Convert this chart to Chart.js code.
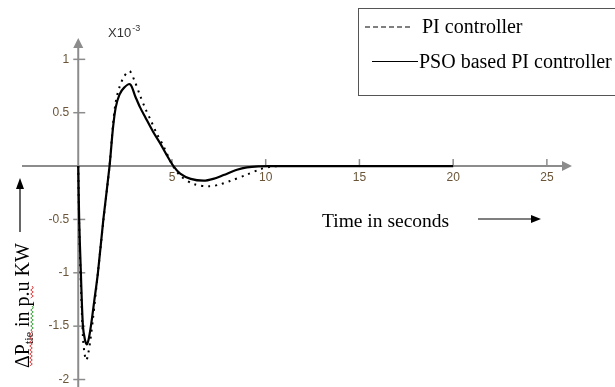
<!DOCTYPE html>
<html>
<head>
<meta charset="utf-8">
<script src="https://cdn.jsdelivr.net/npm/chart.js@4.4.1/dist/chart.umd.min.js"></script>
<style>
  html, body { margin: 0; padding: 0; background: #fff; }
  #wrap { width: 615px; height: 387px; position: relative; }
</style>
</head>
<body>
<div id="wrap"><canvas id="tieChart"></canvas></div>
<script>
// time (s) and deviation (x10^-3 p.u KW)
const piTime = [0, 0.05, 0.14, 0.25, 0.34, 0.43, 0.53, 0.64, 0.78, 1.05, 1.35, 1.67, 1.85, 2.0, 2.2, 2.45, 2.74, 3.0, 3.3, 3.6, 3.84, 4.2, 4.54, 5.05, 5.5, 6.2, 7.0, 7.6, 8.1, 9.0, 9.7, 10.3, 11, 12, 15, 20];
const piValues = [0, -0.55, -1.1, -1.6, -1.76, -1.82, -1.76, -1.64, -1.44, -1.0, -0.5, 0, 0.38, 0.6, 0.74, 0.84, 0.89, 0.8, 0.66, 0.53, 0.44, 0.3, 0.19, 0, -0.1, -0.17, -0.19, -0.17, -0.14, -0.08, -0.03, -0.005, 0, 0, 0, 0];

const psoTime = [0, 0.05, 0.14, 0.25, 0.36, 0.46, 0.57, 0.7, 0.85, 1.05, 1.34, 1.67, 1.85, 2.0, 2.2, 2.45, 2.77, 3.05, 3.3, 3.57, 4.0, 4.38, 4.7, 5.08, 5.44, 6.0, 6.69, 7.2, 7.75, 8.47, 9.0, 9.6, 10.3, 12, 15, 20];
const psoValues = [0, -0.5, -1.0, -1.5, -1.63, -1.67, -1.61, -1.47, -1.27, -1.0, -0.5, 0, 0.35, 0.55, 0.67, 0.735, 0.766, 0.65, 0.55, 0.46, 0.32, 0.21, 0.11, 0, -0.07, -0.12, -0.137, -0.12, -0.084, -0.035, -0.012, -0.002, 0, 0, 0, 0];

const xTicks = [5, 10, 15, 20, 25];
const yTicks = [1, 0.5, -0.5, -1, -1.5, -2];
const yTickLabels = ["1", "0.5", "-0.5", "-1", "-1.5", "-2"];
const seriesNames = ["PI controller", "PSO based PI controller"];

function toPoints(xs, ys) {
  return xs.map(function(x, i) { return { x: x, y: ys[i] }; });
}

const serif = "'Liberation Serif', 'Times New Roman', serif";
const sans = "'Liberation Sans', Arial, sans-serif";

function arrowHead(ctx, x, y, dir, len, half) {
  ctx.beginPath();
  if (dir === 'right') {
    ctx.moveTo(x, y); ctx.lineTo(x - len, y - half); ctx.lineTo(x - len, y + half);
  } else {
    ctx.moveTo(x, y); ctx.lineTo(x - half, y + len); ctx.lineTo(x + half, y + len);
  }
  ctx.closePath();
  ctx.fill();
}

function squiggle(ctx, x, y1, y2, color) {
  ctx.save();
  ctx.strokeStyle = color;
  ctx.lineWidth = 1;
  ctx.beginPath();
  let flip = 1;
  ctx.moveTo(x, y1);
  for (let y = y1 + 2; y <= y2; y += 2) {
    ctx.lineTo(x + flip * 1.3, y);
    flip = -flip;
  }
  ctx.stroke();
  ctx.restore();
}

// axes through the origin with arrows, ticks and labels
const axesPlugin = {
  id: 'axesPlugin',
  beforeDatasetsDraw(chart) {
    const ctx = chart.ctx;
    const xs = chart.scales.x, ys = chart.scales.y;
    const area = chart.chartArea;
    const x0 = xs.getPixelForValue(0);
    const y0 = ys.getPixelForValue(0);
    ctx.save();
    ctx.strokeStyle = '#8c8c8c';
    ctx.fillStyle = '#8c8c8c';
    ctx.lineWidth = 2;
    // x axis
    ctx.beginPath();
    ctx.moveTo(area.left, y0);
    ctx.lineTo(area.right - 6, y0);
    ctx.stroke();
    arrowHead(ctx, area.right - 3, y0, 'right', 10, 5);
    // y axis
    ctx.beginPath();
    ctx.moveTo(x0, area.bottom);
    ctx.lineTo(x0, area.top + 6);
    ctx.stroke();
    arrowHead(ctx, x0, area.top, 'up', 10, 5);

    ctx.lineWidth = 1.5;
    yTicks.forEach(function(v) {
      const py = ys.getPixelForValue(v);
      ctx.beginPath();
      ctx.moveTo(x0 - 5, py);
      ctx.lineTo(x0 + 7, py);
      ctx.stroke();
    });
    xTicks.forEach(function(v) {
      const px = xs.getPixelForValue(v);
      ctx.beginPath();
      ctx.moveTo(px, y0 - 7);
      ctx.lineTo(px, y0 + 1);
      ctx.stroke();
    });

    ctx.fillStyle = '#6a5538';
    ctx.font = '12px ' + sans;
    ctx.textAlign = 'right';
    ctx.textBaseline = 'middle';
    yTicks.forEach(function(v, i) {
      ctx.fillText(yTickLabels[i], x0 - 9, ys.getPixelForValue(v));
    });
    ctx.textAlign = 'center';
    xTicks.forEach(function(v) {
      ctx.fillText(String(v), xs.getPixelForValue(v), y0 + 12);
    });

    // exponent marker
    ctx.fillStyle = '#333';
    ctx.textAlign = 'left';
    ctx.textBaseline = 'alphabetic';
    ctx.font = '13px ' + sans;
    ctx.fillText('X10', 108, 37);
    const ew = ctx.measureText('X10').width;
    ctx.font = '9px ' + sans;
    ctx.fillText('-3', 108 + ew + 1, 31);
    ctx.restore();
  },
  afterDraw(chart) {
    const ctx = chart.ctx;
    ctx.save();
    ctx.fillStyle = '#000';
    ctx.strokeStyle = '#000';

    // x title and arrow
    ctx.font = '19.5px ' + serif;
    ctx.textAlign = 'left';
    ctx.textBaseline = 'alphabetic';
    ctx.fillText('Time in seconds', 322, 227);
    ctx.lineWidth = 1.2;
    ctx.beginPath();
    ctx.moveTo(478, 219);
    ctx.lineTo(532, 219);
    ctx.stroke();
    arrowHead(ctx, 541, 219, 'right', 10, 4);

    // y title (rotated) and arrow
    ctx.save();
    ctx.translate(29, 368);
    ctx.rotate(-Math.PI / 2);
    ctx.font = '20px ' + serif;
    ctx.fillText('\u0394P', 0, 0);
    let w = ctx.measureText('\u0394P').width;
    ctx.font = '12px ' + serif;
    ctx.fillText('tie', w, 4);
    w += ctx.measureText('tie').width;
    ctx.font = '20px ' + serif;
    ctx.fillText(' in p.u KW', w, 0);
    ctx.restore();
    squiggle(ctx, 32, 286, 298, '#e04040');
    squiggle(ctx, 32, 306, 330, '#40a040');
    squiggle(ctx, 31, 330, 366, '#e04040');
    ctx.beginPath();
    ctx.moveTo(20, 232);
    ctx.lineTo(20, 188);
    ctx.stroke();
    arrowHead(ctx, 20, 178, 'up', 11, 4);

    // legend box
    ctx.lineWidth = 1;
    ctx.strokeStyle = '#555';
    ctx.strokeRect(358.5, 8.5, 300, 87);
    ctx.strokeStyle = '#000';
    ctx.lineWidth = 1.2;
    ctx.setLineDash([5, 3]);
    ctx.beginPath();
    ctx.moveTo(365, 27);
    ctx.lineTo(411, 27);
    ctx.stroke();
    ctx.setLineDash([]);
    ctx.beginPath();
    ctx.moveTo(372, 61.5);
    ctx.lineTo(418, 61.5);
    ctx.stroke();
    ctx.font = '20px ' + serif;
    ctx.fillText(seriesNames[0], 422, 33);
    ctx.fillText(seriesNames[1], 419, 68);
    ctx.restore();
  }
};

new Chart(document.getElementById('tieChart'), {
  type: 'line',
  data: {
    datasets: [{
      label: seriesNames[1],
      data: toPoints(psoTime, psoValues),
      borderColor: '#000',
      borderWidth: 2.2,
      pointRadius: 0,
      tension: 0.3,
      fill: false
    }, {
      label: seriesNames[0],
      data: toPoints(piTime, piValues),
      borderColor: '#000',
      borderWidth: 2,
      borderDash: [2, 5],
      pointRadius: 0,
      tension: 0.3,
      fill: false
    }]
  },
  options: {
    responsive: true,
    maintainAspectRatio: false,
    animation: false,
    layout: { padding: { left: 22, right: 40, top: 38, bottom: 0 } },
    scales: {
      x: { type: 'linear', min: -3, max: 26.5, display: false },
      y: { type: 'linear', min: -2.07, max: 1.2, display: false }
    },
    plugins: {
      legend: { display: false },
      tooltip: { enabled: false }
    }
  },
  plugins: [axesPlugin]
});
</script>
</body>
</html>
